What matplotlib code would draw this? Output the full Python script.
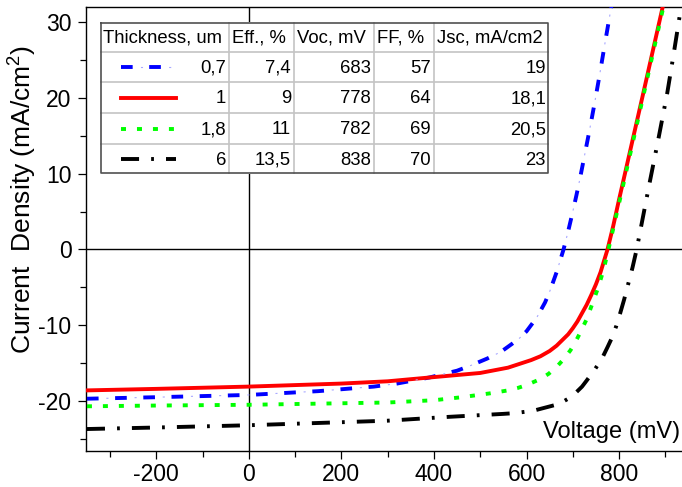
import matplotlib
matplotlib.use("Agg")
import matplotlib.pyplot as plt
from matplotlib.ticker import MultipleLocator, FixedLocator

plt.rcParams["font.family"] = ["Liberation Sans", "DejaVu Sans"]
plt.rcParams["mathtext.fontset"] = "custom"
plt.rcParams["mathtext.rm"] = "Liberation Sans"
plt.rcParams["axes.unicode_minus"] = False
plt.rcParams["lines.scale_dashes"] = False

# J-V curves for each absorber thickness (voltage in mV, current density in mA/cm2)
V_07 = [-350, -200, 0, 150, 270, 320, 390, 450, 480, 515, 545, 570, 585, 600, 611, 622, 631, 640,
        651, 658, 665, 672, 680, 690, 700, 708, 716, 726, 737, 748, 759, 770, 782, 790]
J_07 = [-19.7, -19.5, -19.2, -18.7, -18.1, -17.7, -16.9, -16.0, -15.3, -14.4, -13.5, -12.4, -11.7, -10.8, -9.9, -9.0, -8.0, -7.0,
        -5.4, -4.2, -3.0, -1.6, 0.0, 2.4, 5.0, 7.2, 9.5, 12.6, 16.0, 19.6, 23.4, 27.4, 31.6, 34.5]

V_1 = [-350, -200, 0, 200, 300, 390, 500, 560, 580, 610, 630, 650, 665, 680, 690, 700, 710, 720,
       730, 740, 750, 760, 775, 787, 800, 850, 895, 910]
J_1 = [-18.6, -18.4, -18.1, -17.7, -17.4, -16.9, -16.3, -15.6, -15.2, -14.6, -14.1, -13.4, -12.7, -11.8, -11.2, -10.4, -9.5, -8.4,
       -7.3, -6.0, -4.6, -3.0, 0.0, 3.0, 6.6, 20.0, 32.2, 36.0]

V_18 = [-350, -200, 0, 200, 300, 400, 460, 520, 560, 580, 600, 615, 630, 648, 665, 680, 695, 705,
        715, 730, 742, 755, 762, 770, 777, 800, 850, 895, 910]
J_18 = [-20.7, -20.6, -20.5, -20.3, -20.2, -19.9, -19.5, -19.0, -18.6, -18.3, -17.9, -17.5, -17.1, -16.4, -15.5, -14.5, -13.3, -12.3,
        -11.1, -9.2, -7.2, -5.0, -3.6, -1.8, 0.0, 6.1, 19.6, 31.8, 35.8]

V_6 = [-350, -200, 0, 150, 300, 430, 550, 575, 600, 620, 645, 670, 690, 700, 710, 720, 730, 748,
       763, 775, 785, 794, 802, 811, 820, 829, 838, 852, 867, 885, 904, 918, 932, 945]
J_6 = [-23.7, -23.5, -23.2, -22.9, -22.6, -22.1, -21.7, -21.6, -21.4, -21.2, -20.8, -20.4, -19.7, -19.3, -18.7, -18.1, -17.3, -15.8,
       -14.4, -12.9, -11.6, -10.1, -8.5, -6.6, -4.5, -2.4, 0.0, 4.4, 9.1, 14.6, 20.6, 25.8, 31.2, 35.5]

# Table contents
headers = ["Thickness, um", "Eff., %", "Voc, mV", "FF, %", "Jsc, mA/cm2"]
thickness = [0.7, 1, 1.8, 6]
efficiency = [7.4, 9, 11, 13.5]
voc = [683, 778, 782, 838]
fill_factor = [57, 64, 69, 70]
jsc = [19, 18.1, 20.5, 23]

LW = 2.8
styles = [
    dict(color="#0000ff", dashes=(8.4, 11.9)),
    dict(color="#ff0000", linestyle="-"),
    dict(color="#00ff00", dashes=(3.6, 7.9)),
    dict(color="#000000", dashes=(13.0, 8.7, 2.0, 8.7)),
]
faint_dot = dict(color="#a8a8ff", lw=0.8, linestyle=(6.3, (1.5, 18.8)))

W, H = 682, 487
fig = plt.figure(figsize=(W / 100, H / 100), dpi=100)

ax_l, ax_r, ax_t, ax_b = 86, 682, 7, 451
ax = fig.add_axes([ax_l / W, 1 - ax_b / H, (ax_r - ax_l) / W, (ax_b - ax_t) / H])

curves = [(V_07, J_07), (V_1, J_1), (V_18, J_18), (V_6, J_6)]
for (v, j), st in zip(curves, styles):
    ax.plot(v, j, lw=LW, **st, zorder=3, solid_joinstyle="round")
ax.plot(V_07, J_07, **faint_dot, zorder=3)

ax.axhline(0, color="black", lw=1.0, zorder=2)
ax.axvline(0, color="black", lw=1.0, zorder=2)

ax.set_xlim(-352, 936)
ax.set_ylim(-26.6, 32.0)
ax.xaxis.set_major_locator(MultipleLocator(200))
ax.xaxis.set_minor_locator(FixedLocator([-300, -100, 100, 300, 500, 700, 900]))
ax.yaxis.set_major_locator(MultipleLocator(10))
ax.yaxis.set_minor_locator(FixedLocator([-25, -15, -5, 5, 15, 25]))
ax.tick_params(which="major", length=6, width=0.9, direction="out", labelsize=16.5)
ax.tick_params(axis="y", which="major", pad=4.5)
ax.tick_params(axis="x", which="major", pad=2.5)
ax.tick_params(which="minor", length=4, width=0.9, direction="out")
ax.tick_params(axis="x", which="both", top=False)
ax.tick_params(axis="y", which="both", right=False)
for s in ["left", "bottom", "top"]:
    ax.spines[s].set_linewidth(1.0)
ax.spines["right"].set_visible(False)

fig.text(680 / W, 1 - 438 / H, "Voltage (mV)", ha="right", va="baseline", fontsize=17)
fig.text(32 / W, 1 - 199 / H, "Current  Density (mA/cm$\\mathregular{^2}$)",
         rotation=90, rotation_mode="anchor", ha="center", va="baseline", fontsize=19)

# Table drawn in its own pixel-unit axes
tx0, ty0, tw, th = 100, 22, 449, 152
tab = fig.add_axes([tx0 / W, 1 - (ty0 + th) / H, tw / W, th / H], zorder=5)
tab.set_xlim(0, tw)
tab.set_ylim(th, 0)
tab.set_facecolor("white")
for s in tab.spines.values():
    s.set_visible(False)
tab.set_xticks([])
tab.set_yticks([])

col_edges = [0, 129, 194, 274, 334, 449]
row_edges = [0, 30, 60, 91, 122, 152]
grid_c = "#c4c4c4"
for x in col_edges[1:-1]:
    tab.plot([x, x], [0, th], color=grid_c, lw=1.2, zorder=1)
for y in row_edges[1:-1]:
    tab.plot([0, tw], [y, y], color=grid_c, lw=1.2, zorder=1)
frame_c = "#505050"
tab.plot([0.5, tw - 0.8, tw - 0.8, 0.5, 0.5], [0.5, 0.5, th - 0.8, th - 0.8, 0.5],
         color=frame_c, lw=1.2, zorder=2, clip_on=False)

def fmt(v):
    return f"{v:g}".replace(".", ",")

TS = 13.3
for k, h in enumerate(headers):
    yc = (row_edges[0] + row_edges[1]) / 2
    tab.text(col_edges[k] + 3, yc + 1, h, ha="left", va="center", fontsize=TS)

rows = list(zip(thickness, efficiency, voc, fill_factor, jsc))
for r, vals in enumerate(rows):
    yc = (row_edges[r + 1] + row_edges[r + 2]) / 2
    for k, v in enumerate(vals):
        tab.text(col_edges[k + 1] - 3, yc + 1, fmt(v), ha="right", va="center", fontsize=TS)
    tab.plot([20.7, 76], [yc, yc], lw=LW, **styles[r], zorder=3)
    if r == 0:
        tab.plot([20.7, 76], [yc, yc], **faint_dot, zorder=3)

fig.savefig("out.png", dpi=100)
